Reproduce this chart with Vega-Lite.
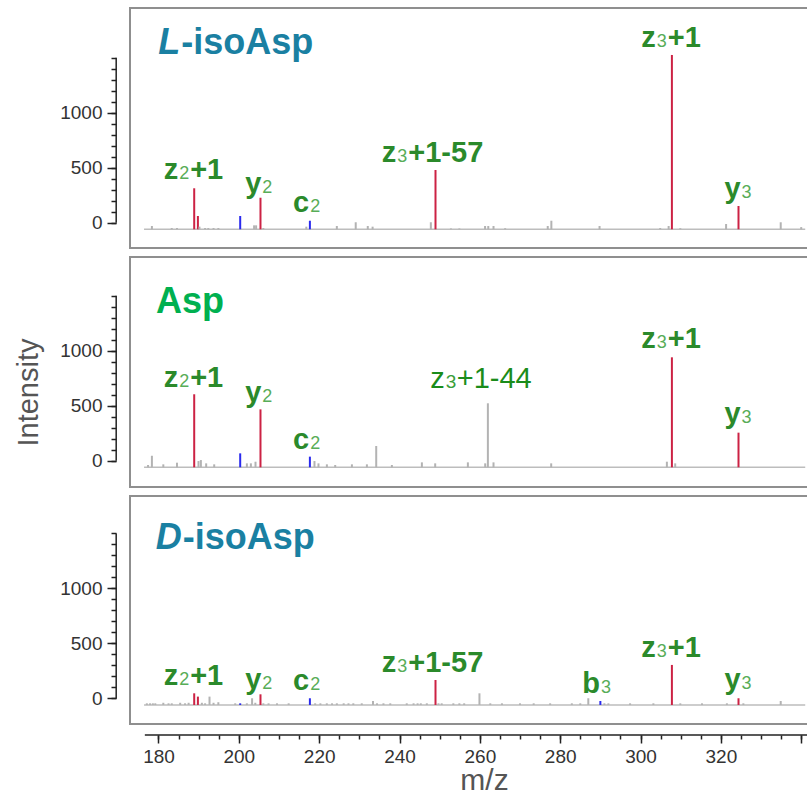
{
"$schema": "https://vega.github.io/schema/vega-lite/v6.json",
"padding": {"left": 13, "top": 7, "right": 0, "bottom": 0},
"background": "white",
"spacing": 7,
"config": {"view": {"stroke": "#8f8f8f", "strokeWidth": 2}, "axis": {"labelFont": "Liberation Sans", "titleFont": "Liberation Sans", "grid": false}, "text": {"font": "Liberation Sans"}},
"datasets": {
"peaks": [
{"p":"L","mz":188.89,"i":373,"t":"red"},{"p":"L","mz":189.81,"i":121,"t":"red"},{"p":"L","mz":205.39,"i":287,"t":"red"},{"p":"L","mz":248.96,"i":539,"t":"red"},{"p":"L","mz":307.81,"i":1585,"t":"red"},{"p":"L","mz":324.39,"i":212,"t":"red"},
{"p":"L","mz":200.34,"i":121,"t":"blue"},{"p":"L","mz":217.69,"i":78,"t":"blue"},
{"p":"L","mz":178.36,"i":30,"t":"gray"},{"p":"L","mz":183.3,"i":12,"t":"gray"},{"p":"L","mz":184.6,"i":12,"t":"gray"},{"p":"L","mz":190.2,"i":24,"t":"gray"},{"p":"L","mz":191.6,"i":12,"t":"gray"},{"p":"L","mz":192.4,"i":12,"t":"gray"},{"p":"L","mz":193.7,"i":12,"t":"gray"},{"p":"L","mz":194.9,"i":12,"t":"gray"},{"p":"L","mz":203.8,"i":36,"t":"gray"},{"p":"L","mz":204.3,"i":36,"t":"gray"},{"p":"L","mz":206.1,"i":12,"t":"gray"},{"p":"L","mz":216.8,"i":24,"t":"gray"},{"p":"L","mz":224.4,"i":30,"t":"gray"},{"p":"L","mz":229.1,"i":64,"t":"gray"},{"p":"L","mz":232.1,"i":30,"t":"gray"},{"p":"L","mz":233.3,"i":24,"t":"gray"},{"p":"L","mz":247.8,"i":64,"t":"gray"},{"p":"L","mz":252.8,"i":8,"t":"gray"},{"p":"L","mz":254.9,"i":8,"t":"gray"},{"p":"L","mz":261.3,"i":30,"t":"gray"},{"p":"L","mz":262.1,"i":30,"t":"gray"},{"p":"L","mz":263.4,"i":30,"t":"gray"},{"p":"L","mz":266.3,"i":10,"t":"gray"},{"p":"L","mz":276.9,"i":30,"t":"gray"},{"p":"L","mz":277.8,"i":78,"t":"gray"},{"p":"L","mz":289.8,"i":30,"t":"gray"},{"p":"L","mz":304.9,"i":12,"t":"gray"},{"p":"L","mz":307.0,"i":30,"t":"gray"},{"p":"L","mz":309.9,"i":10,"t":"gray"},{"p":"L","mz":321.3,"i":48,"t":"gray"},{"p":"L","mz":334.9,"i":64,"t":"gray"},{"p":"L","mz":340.0,"i":20,"t":"gray"},
{"p":"A","mz":188.89,"i":664,"t":"red"},{"p":"A","mz":205.39,"i":527,"t":"red"},{"p":"A","mz":307.81,"i":1000,"t":"red"},{"p":"A","mz":324.39,"i":315,"t":"red"},
{"p":"A","mz":200.34,"i":127,"t":"blue"},{"p":"A","mz":217.69,"i":97,"t":"blue"},
{"p":"A","mz":177.4,"i":21,"t":"gray"},{"p":"A","mz":178.36,"i":105,"t":"gray"},{"p":"A","mz":181.2,"i":27,"t":"gray"},{"p":"A","mz":184.6,"i":42,"t":"gray"},{"p":"A","mz":189.96,"i":57,"t":"gray"},{"p":"A","mz":190.55,"i":66,"t":"gray"},{"p":"A","mz":191.87,"i":36,"t":"gray"},{"p":"A","mz":193.87,"i":27,"t":"gray"},{"p":"A","mz":202.0,"i":36,"t":"gray"},{"p":"A","mz":203.0,"i":36,"t":"gray"},{"p":"A","mz":204.15,"i":51,"t":"gray"},{"p":"A","mz":218.83,"i":57,"t":"gray"},{"p":"A","mz":219.83,"i":36,"t":"gray"},{"p":"A","mz":221.92,"i":27,"t":"gray"},{"p":"A","mz":223.99,"i":21,"t":"gray"},{"p":"A","mz":228.15,"i":27,"t":"gray"},{"p":"A","mz":231.88,"i":27,"t":"gray"},{"p":"A","mz":234.2,"i":194,"t":"gray"},{"p":"A","mz":238.1,"i":21,"t":"gray"},{"p":"A","mz":245.57,"i":45,"t":"gray"},{"p":"A","mz":248.88,"i":36,"t":"gray"},{"p":"A","mz":257.02,"i":45,"t":"gray"},{"p":"A","mz":261.33,"i":36,"t":"gray"},{"p":"A","mz":262.0,"i":582,"t":"gray"},{"p":"A","mz":263.4,"i":45,"t":"gray"},{"p":"A","mz":277.76,"i":36,"t":"gray"},{"p":"A","mz":306.56,"i":51,"t":"gray"},{"p":"A","mz":308.63,"i":36,"t":"gray"},
{"p":"D","mz":188.89,"i":106,"t":"red"},{"p":"D","mz":189.81,"i":76,"t":"red"},{"p":"D","mz":205.39,"i":97,"t":"red"},{"p":"D","mz":248.96,"i":227,"t":"red"},{"p":"D","mz":307.81,"i":364,"t":"red"},{"p":"D","mz":324.39,"i":61,"t":"red"},
{"p":"D","mz":200.34,"i":15,"t":"blue"},{"p":"D","mz":217.69,"i":61,"t":"blue"},{"p":"D","mz":290.0,"i":36,"t":"blue"},
{"p":"D","mz":177.1,"i":15,"t":"gray"},{"p":"D","mz":177.9,"i":15,"t":"gray"},{"p":"D","mz":178.6,"i":15,"t":"gray"},{"p":"D","mz":179.2,"i":15,"t":"gray"},{"p":"D","mz":181.2,"i":20,"t":"gray"},{"p":"D","mz":182.5,"i":15,"t":"gray"},{"p":"D","mz":183.3,"i":15,"t":"gray"},{"p":"D","mz":185.4,"i":20,"t":"gray"},{"p":"D","mz":186.6,"i":15,"t":"gray"},{"p":"D","mz":187.5,"i":20,"t":"gray"},{"p":"D","mz":190.8,"i":20,"t":"gray"},{"p":"D","mz":191.6,"i":15,"t":"gray"},{"p":"D","mz":192.7,"i":76,"t":"gray"},{"p":"D","mz":193.7,"i":20,"t":"gray"},{"p":"D","mz":194.9,"i":25,"t":"gray"},{"p":"D","mz":199.1,"i":15,"t":"gray"},{"p":"D","mz":202.0,"i":15,"t":"gray"},{"p":"D","mz":203.3,"i":61,"t":"gray"},{"p":"D","mz":204.1,"i":20,"t":"gray"},{"p":"D","mz":206.1,"i":15,"t":"gray"},{"p":"D","mz":207.4,"i":15,"t":"gray"},{"p":"D","mz":209.5,"i":15,"t":"gray"},{"p":"D","mz":212.4,"i":15,"t":"gray"},{"p":"D","mz":219.0,"i":15,"t":"gray"},{"p":"D","mz":220.3,"i":15,"t":"gray"},{"p":"D","mz":221.9,"i":15,"t":"gray"},{"p":"D","mz":223.2,"i":15,"t":"gray"},{"p":"D","mz":224.4,"i":15,"t":"gray"},{"p":"D","mz":226.1,"i":15,"t":"gray"},{"p":"D","mz":227.3,"i":15,"t":"gray"},{"p":"D","mz":228.5,"i":15,"t":"gray"},{"p":"D","mz":230.6,"i":15,"t":"gray"},{"p":"D","mz":233.4,"i":36,"t":"gray"},{"p":"D","mz":234.4,"i":15,"t":"gray"},{"p":"D","mz":236.0,"i":15,"t":"gray"},{"p":"D","mz":237.7,"i":15,"t":"gray"},{"p":"D","mz":241.8,"i":15,"t":"gray"},{"p":"D","mz":243.5,"i":15,"t":"gray"},{"p":"D","mz":244.5,"i":15,"t":"gray"},{"p":"D","mz":245.3,"i":15,"t":"gray"},{"p":"D","mz":246.8,"i":15,"t":"gray"},{"p":"D","mz":249.7,"i":15,"t":"gray"},{"p":"D","mz":250.5,"i":15,"t":"gray"},{"p":"D","mz":253.4,"i":15,"t":"gray"},{"p":"D","mz":254.9,"i":15,"t":"gray"},{"p":"D","mz":256.1,"i":15,"t":"gray"},{"p":"D","mz":259.9,"i":106,"t":"gray"},{"p":"D","mz":262.6,"i":15,"t":"gray"},{"p":"D","mz":265.5,"i":15,"t":"gray"},{"p":"D","mz":270.0,"i":15,"t":"gray"},{"p":"D","mz":273.4,"i":15,"t":"gray"},{"p":"D","mz":277.5,"i":15,"t":"gray"},{"p":"D","mz":282.9,"i":15,"t":"gray"},{"p":"D","mz":285.0,"i":15,"t":"gray"},{"p":"D","mz":287.0,"i":61,"t":"gray"},{"p":"D","mz":291.0,"i":15,"t":"gray"},{"p":"D","mz":292.0,"i":15,"t":"gray"},{"p":"D","mz":297.4,"i":15,"t":"gray"},{"p":"D","mz":303.2,"i":15,"t":"gray"},{"p":"D","mz":309.9,"i":15,"t":"gray"},{"p":"D","mz":315.3,"i":15,"t":"gray"},{"p":"D","mz":321.5,"i":15,"t":"gray"},{"p":"D","mz":325.6,"i":15,"t":"gray"},{"p":"D","mz":334.9,"i":36,"t":"gray"}
],
"labels": [
{"p":"L","mz":184.9,"i":457,"main":"z","sub":"2","rest":"+1","bold":true},
{"p":"L","mz":205.6,"i":330,"main":"y","sub":"2","rest":"","bold":true},
{"p":"L","mz":217.5,"i":155,"main":"c","sub":"2","rest":"","bold":true},
{"p":"L","mz":239.2,"i":609,"main":"z","sub":"3","rest":"+1-57","bold":true},
{"p":"L","mz":303.8,"i":1660,"main":"z","sub":"3","rest":"+1","bold":true},
{"p":"L","mz":324.9,"i":282,"main":"y","sub":"3","rest":"","bold":true},
{"p":"A","mz":184.9,"i":733,"main":"z","sub":"2","rest":"+1","bold":true},
{"p":"A","mz":205.6,"i":596,"main":"y","sub":"2","rest":"","bold":true},
{"p":"A","mz":217.5,"i":166,"main":"c","sub":"2","rest":"","bold":true},
{"p":"A","mz":251.25,"i":718,"main":"z","sub":"3","rest":"+1-44","bold":false},
{"p":"A","mz":303.8,"i":1082,"main":"z","sub":"3","rest":"+1","bold":true},
{"p":"A","mz":324.9,"i":400,"main":"y","sub":"3","rest":"","bold":true},
{"p":"D","mz":184.9,"i":182,"main":"z","sub":"2","rest":"+1","bold":true},
{"p":"D","mz":205.6,"i":145,"main":"y","sub":"2","rest":"","bold":true},
{"p":"D","mz":217.5,"i":136,"main":"c","sub":"2","rest":"","bold":true},
{"p":"D","mz":239.2,"i":303,"main":"z","sub":"3","rest":"+1-57","bold":true},
{"p":"D","mz":289.9,"i":106,"main":"b","sub":"3","rest":"","bold":true},
{"p":"D","mz":303.8,"i":439,"main":"z","sub":"3","rest":"+1","bold":true},
{"p":"D","mz":324.9,"i":145,"main":"y","sub":"3","rest":"","bold":true}
]
},
"vconcat": [
{
"width": 679, "height": 240,
"resolve": {"axis": {"x": "independent", "y": "independent"}},
"layer": [
{"data":{"values":[{}]},"mark":{"type":"rule","color":"#bdbdbd","strokeWidth":1.5},"encoding":{"x":{"datum":176.4,"type":"quantitative","scale":{"domain":[172.907,341.94],"nice":false,"zero":false},"axis":null},"x2":{"datum":341},"y":{"datum":0,"type":"quantitative","scale":{"domain":[-170,2012],"nice":false,"zero":false},"axis":null}}},
{"data":{"name":"peaks"},"transform":[{"filter":"datum.p === 'L'"}],"mark":{"type":"rule"},"encoding":{
"x":{"field":"mz","type":"quantitative","scale":{"domain":[172.907,341.94],"nice":false,"zero":false},"axis":null},
"y":{"field":"i","type":"quantitative","scale":{"domain":[-170,2012],"nice":false,"zero":false},"axis":{"orient":"left","offset":14,"domain":false,"grid":false,"values":[0,500,1000],"tickOffset":-6.5,"tickSize":9,"tickColor":"#222222","tickWidth":1.5,"format":"d","labelFontSize":19,"labelColor":"#333333","labelPadding":5,"labelOverlap":false,"title":null}},
"y2":{"datum":0},
"color":{"field":"t","type":"nominal","scale":{"domain":["red","blue","gray"],"range":["#cc2244","#2a2aee","#b3b3b3"]},"legend":null},
"strokeWidth":{"field":"t","type":"nominal","scale":{"domain":["red","blue","gray"],"range":[2,2,1.2]},"legend":null}}},
{"data":{"values":[{}]},"mark":{"type":"rule","color":"#222222","strokeWidth":1.5,"yOffset":-6.5,"y2Offset":-6.5},"encoding":{"x":{"datum":169.47,"type":"quantitative","scale":{"domain":[172.907,341.94],"nice":false,"zero":false},"axis":null},"y":{"datum":0,"type":"quantitative","scale":{"domain":[-170,2012],"nice":false,"zero":false},"axis":{"orient":"left","offset":14,"domain":false,"grid":false,"values":[0,100,200,300,400,500,600,700,800,900,1000,1100,1200,1300,1400,1500],"tickOffset":-6.5,"tickSize":5,"tickColor":"#222222","tickWidth":1.5,"labels":false,"title":null}},"y2":{"datum":1500}}},
{"data":{"name":"labels"},"transform":[{"filter":"datum.p === 'L' && datum.bold"}],"mark":{"type":"text","align":"right","baseline":"alphabetic","fontWeight":"bold","fontSize":29,"color":"#2b8a2b"},"encoding":{"x":{"field":"mz","type":"quantitative","scale":{"domain":[172.907,341.94],"nice":false,"zero":false},"axis":null},"y":{"field":"i","type":"quantitative","scale":{"domain":[-170,2012],"nice":false,"zero":false},"axis":null},"text":{"field":"main"}}},
{"data":{"name":"labels"},"transform":[{"filter":"datum.p === 'L' && datum.bold"}],"mark":{"type":"text","align":"left","baseline":"alphabetic","dx":1,"fontSize":18,"color":"#58ad58"},"encoding":{"x":{"field":"mz","type":"quantitative","scale":{"domain":[172.907,341.94],"nice":false,"zero":false},"axis":null},"y":{"field":"i","type":"quantitative","scale":{"domain":[-170,2012],"nice":false,"zero":false},"axis":null},"text":{"field":"sub"}}},
{"data":{"name":"labels"},"transform":[{"filter":"datum.p === 'L' && datum.bold"}],"mark":{"type":"text","align":"left","baseline":"alphabetic","dx":12,"fontWeight":"bold","fontSize":29,"color":"#2b8a2b"},"encoding":{"x":{"field":"mz","type":"quantitative","scale":{"domain":[172.907,341.94],"nice":false,"zero":false},"axis":null},"y":{"field":"i","type":"quantitative","scale":{"domain":[-170,2012],"nice":false,"zero":false},"axis":null},"text":{"field":"rest"}}},
{"data":{"values":[{}]},"mark":{"type":"text","align":"right","baseline":"alphabetic","fontWeight":"bold","fontStyle":"italic","fontSize":36,"color":"#1a80a2"},"encoding":{"x":{"datum":185.4,"type":"quantitative","scale":{"domain":[172.907,341.94],"nice":false,"zero":false},"axis":null},"y":{"datum":1594,"type":"quantitative","scale":{"domain":[-170,2012],"nice":false,"zero":false},"axis":null},"text":{"value":"L"}}},
{"data":{"values":[{}]},"mark":{"type":"text","align":"left","baseline":"alphabetic","dx":1,"fontWeight":"bold","fontSize":36,"color":"#1a80a2"},"encoding":{"x":{"datum":185.4,"type":"quantitative","scale":{"domain":[172.907,341.94],"nice":false,"zero":false},"axis":null},"y":{"datum":1594,"type":"quantitative","scale":{"domain":[-170,2012],"nice":false,"zero":false},"axis":null},"text":{"value":"-isoAsp"}}}
]
},
{
"width": 679, "height": 230,
"resolve": {"axis": {"x": "independent", "y": "independent"}},
"layer": [
{"data":{"values":[{}]},"mark":{"type":"rule","color":"#bdbdbd","strokeWidth":1.5},"encoding":{"x":{"datum":176.4,"type":"quantitative","scale":{"domain":[172.907,341.94],"nice":false,"zero":false},"axis":null},"x2":{"datum":341},"y":{"datum":0,"type":"quantitative","scale":{"domain":[-179,1912],"nice":false,"zero":false},"axis":null}}},
{"data":{"name":"peaks"},"transform":[{"filter":"datum.p === 'A'"}],"mark":{"type":"rule"},"encoding":{
"x":{"field":"mz","type":"quantitative","scale":{"domain":[172.907,341.94],"nice":false,"zero":false},"axis":null},
"y":{"field":"i","type":"quantitative","scale":{"domain":[-179,1912],"nice":false,"zero":false},"axis":{"orient":"left","offset":14,"domain":false,"grid":false,"values":[0,500,1000],"tickOffset":-6.5,"tickSize":9,"tickColor":"#222222","tickWidth":1.5,"format":"d","labelFontSize":19,"labelColor":"#333333","labelPadding":5,"labelOverlap":false,"title":"Intensity","titleFontSize":29,"titleFontWeight":"normal","titleColor":"#555555","titleX":-73,"titleY":135,"titleAngle":270,"titleAlign":"center","titleBaseline":"bottom"}},
"y2":{"datum":0},
"color":{"field":"t","type":"nominal","scale":{"domain":["red","blue","gray"],"range":["#cc2244","#2a2aee","#b3b3b3"]},"legend":null},
"strokeWidth":{"field":"t","type":"nominal","scale":{"domain":["red","blue","gray"],"range":[2,2,1.2]},"legend":null}}},
{"data":{"values":[{}]},"mark":{"type":"rule","color":"#222222","strokeWidth":1.5,"yOffset":-6.5,"y2Offset":-6.5},"encoding":{"x":{"datum":169.47,"type":"quantitative","scale":{"domain":[172.907,341.94],"nice":false,"zero":false},"axis":null},"y":{"datum":0,"type":"quantitative","scale":{"domain":[-179,1912],"nice":false,"zero":false},"axis":{"orient":"left","offset":14,"domain":false,"grid":false,"values":[0,100,200,300,400,500,600,700,800,900,1000,1100,1200,1300,1400,1500],"tickOffset":-6.5,"tickSize":5,"tickColor":"#222222","tickWidth":1.5,"labels":false,"title":null}},"y2":{"datum":1500}}},
{"data":{"name":"labels"},"transform":[{"filter":"datum.p === 'A' && datum.bold"}],"mark":{"type":"text","align":"right","baseline":"alphabetic","fontWeight":"bold","fontSize":29,"color":"#2b8a2b"},"encoding":{"x":{"field":"mz","type":"quantitative","scale":{"domain":[172.907,341.94],"nice":false,"zero":false},"axis":null},"y":{"field":"i","type":"quantitative","scale":{"domain":[-179,1912],"nice":false,"zero":false},"axis":null},"text":{"field":"main"}}},
{"data":{"name":"labels"},"transform":[{"filter":"datum.p === 'A' && datum.bold"}],"mark":{"type":"text","align":"left","baseline":"alphabetic","dx":1,"fontSize":18,"color":"#58ad58"},"encoding":{"x":{"field":"mz","type":"quantitative","scale":{"domain":[172.907,341.94],"nice":false,"zero":false},"axis":null},"y":{"field":"i","type":"quantitative","scale":{"domain":[-179,1912],"nice":false,"zero":false},"axis":null},"text":{"field":"sub"}}},
{"data":{"name":"labels"},"transform":[{"filter":"datum.p === 'A' && datum.bold"}],"mark":{"type":"text","align":"left","baseline":"alphabetic","dx":12,"fontWeight":"bold","fontSize":29,"color":"#2b8a2b"},"encoding":{"x":{"field":"mz","type":"quantitative","scale":{"domain":[172.907,341.94],"nice":false,"zero":false},"axis":null},"y":{"field":"i","type":"quantitative","scale":{"domain":[-179,1912],"nice":false,"zero":false},"axis":null},"text":{"field":"rest"}}},
{"data":{"name":"labels"},"transform":[{"filter":"datum.p === 'A' && !datum.bold"}],"mark":{"type":"text","align":"right","baseline":"alphabetic","fontSize":29,"color":"#1a8c1a"},"encoding":{"x":{"field":"mz","type":"quantitative","scale":{"domain":[172.907,341.94],"nice":false,"zero":false},"axis":null},"y":{"field":"i","type":"quantitative","scale":{"domain":[-179,1912],"nice":false,"zero":false},"axis":null},"text":{"field":"main"}}},
{"data":{"name":"labels"},"transform":[{"filter":"datum.p === 'A' && !datum.bold"}],"mark":{"type":"text","align":"left","baseline":"alphabetic","dx":1,"fontSize":19,"color":"#3a9e3a"},"encoding":{"x":{"field":"mz","type":"quantitative","scale":{"domain":[172.907,341.94],"nice":false,"zero":false},"axis":null},"y":{"field":"i","type":"quantitative","scale":{"domain":[-179,1912],"nice":false,"zero":false},"axis":null},"text":{"field":"sub"}}},
{"data":{"name":"labels"},"transform":[{"filter":"datum.p === 'A' && !datum.bold"}],"mark":{"type":"text","align":"left","baseline":"alphabetic","dx":12,"fontSize":29,"color":"#1a8c1a"},"encoding":{"x":{"field":"mz","type":"quantitative","scale":{"domain":[172.907,341.94],"nice":false,"zero":false},"axis":null},"y":{"field":"i","type":"quantitative","scale":{"domain":[-179,1912],"nice":false,"zero":false},"axis":null},"text":{"field":"rest"}}},
{"data":{"values":[{}]},"mark":{"type":"text","align":"left","baseline":"alphabetic","fontWeight":"bold","fontSize":36,"color":"#00b050"},"encoding":{"x":{"datum":179.4,"type":"quantitative","scale":{"domain":[172.907,341.94],"nice":false,"zero":false},"axis":null},"y":{"datum":1400,"type":"quantitative","scale":{"domain":[-179,1912],"nice":false,"zero":false},"axis":null},"text":{"value":"Asp"}}}
]
},
{
"width": 679, "height": 228,
"resolve": {"axis": {"x": "independent", "y": "independent"}},
"layer": [
{"data":{"values":[{}]},"mark":{"type":"rule","color":"#bdbdbd","strokeWidth":1.5},"encoding":{"x":{"datum":176.4,"type":"quantitative","scale":{"domain":[172.907,341.94],"nice":false,"zero":false},"axis":null},"x2":{"datum":341},"y":{"datum":0,"type":"quantitative","scale":{"domain":[-173,1900],"nice":false,"zero":false},"axis":null}}},
{"data":{"name":"peaks"},"transform":[{"filter":"datum.p === 'D'"}],"mark":{"type":"rule"},"encoding":{
"x":{"field":"mz","type":"quantitative","scale":{"domain":[172.907,341.94],"nice":false,"zero":false},"axis":{"orient":"bottom","offset":11,"domain":false,"grid":false,"values":[180,200,220,240,260,280,300,320,340],"tickSize":8,"tickColor":"#222222","tickWidth":1.5,"format":"d","labelExpr":"datum.value <= 320 ? datum.label : ''","labelFontSize":19,"labelColor":"#333333","labelPadding":4,"labelOverlap":false,"labelFlush":false,"title":"m/z","titleFontSize":30,"titleFontWeight":"normal","titleColor":"#555555","titleX":354,"titleY":54,"titleAlign":"center","titleBaseline":"alphabetic"}},
"y":{"field":"i","type":"quantitative","scale":{"domain":[-173,1900],"nice":false,"zero":false},"axis":{"orient":"left","offset":14,"domain":false,"grid":false,"values":[0,500,1000],"tickOffset":-6.5,"tickSize":9,"tickColor":"#222222","tickWidth":1.5,"format":"d","labelFontSize":19,"labelColor":"#333333","labelPadding":5,"labelOverlap":false,"title":null}},
"y2":{"datum":0},
"color":{"field":"t","type":"nominal","scale":{"domain":["red","blue","gray"],"range":["#cc2244","#2a2aee","#b3b3b3"]},"legend":null},
"strokeWidth":{"field":"t","type":"nominal","scale":{"domain":["red","blue","gray"],"range":[2,2,1.2]},"legend":null}}},
{"data":{"values":[{}]},"mark":{"type":"rule","color":"#222222","strokeWidth":1.5,"yOffset":-6.5,"y2Offset":-6.5},"encoding":{"x":{"datum":169.47,"type":"quantitative","scale":{"domain":[172.907,341.94],"nice":false,"zero":false},"axis":null},"y":{"datum":0,"type":"quantitative","scale":{"domain":[-173,1900],"nice":false,"zero":false},"axis":{"orient":"left","offset":14,"domain":false,"grid":false,"values":[0,100,200,300,400,500,600,700,800,900,1000,1100,1200,1300,1400,1500],"tickOffset":-6.5,"tickSize":5,"tickColor":"#222222","tickWidth":1.5,"labels":false,"title":null}},"y2":{"datum":1500}}},
{"data":{"values":[{}]},"mark":{"type":"rule","color":"#222222","strokeWidth":1.5},"encoding":{"x":{"datum":176.6,"type":"quantitative","scale":{"domain":[172.907,341.94],"nice":false,"zero":false},"axis":{"orient":"bottom","offset":11,"domain":false,"grid":false,"values":[180,185,190,195,200,205,210,215,220,225,230,235,240,245,250,255,260,265,270,275,280,285,290,295,300,305,310,315,320,325,330,335,340],"tickSize":4,"tickColor":"#222222","tickWidth":1.5,"labels":false,"title":null}},"x2":{"datum":345},"y":{"datum":-273,"type":"quantitative","scale":{"domain":[-173,1900],"nice":false,"zero":false},"axis":null}}},
{"data":{"name":"labels"},"transform":[{"filter":"datum.p === 'D' && datum.bold"}],"mark":{"type":"text","align":"right","baseline":"alphabetic","fontWeight":"bold","fontSize":29,"color":"#2b8a2b"},"encoding":{"x":{"field":"mz","type":"quantitative","scale":{"domain":[172.907,341.94],"nice":false,"zero":false},"axis":null},"y":{"field":"i","type":"quantitative","scale":{"domain":[-173,1900],"nice":false,"zero":false},"axis":null},"text":{"field":"main"}}},
{"data":{"name":"labels"},"transform":[{"filter":"datum.p === 'D' && datum.bold"}],"mark":{"type":"text","align":"left","baseline":"alphabetic","dx":1,"fontSize":18,"color":"#58ad58"},"encoding":{"x":{"field":"mz","type":"quantitative","scale":{"domain":[172.907,341.94],"nice":false,"zero":false},"axis":null},"y":{"field":"i","type":"quantitative","scale":{"domain":[-173,1900],"nice":false,"zero":false},"axis":null},"text":{"field":"sub"}}},
{"data":{"name":"labels"},"transform":[{"filter":"datum.p === 'D' && datum.bold"}],"mark":{"type":"text","align":"left","baseline":"alphabetic","dx":12,"fontWeight":"bold","fontSize":29,"color":"#2b8a2b"},"encoding":{"x":{"field":"mz","type":"quantitative","scale":{"domain":[172.907,341.94],"nice":false,"zero":false},"axis":null},"y":{"field":"i","type":"quantitative","scale":{"domain":[-173,1900],"nice":false,"zero":false},"axis":null},"text":{"field":"rest"}}},
{"data":{"values":[{}]},"mark":{"type":"text","align":"right","baseline":"alphabetic","fontWeight":"bold","fontStyle":"italic","fontSize":36,"color":"#1a80a2"},"encoding":{"x":{"datum":185.8,"type":"quantitative","scale":{"domain":[172.907,341.94],"nice":false,"zero":false},"axis":null},"y":{"datum":1415,"type":"quantitative","scale":{"domain":[-173,1900],"nice":false,"zero":false},"axis":null},"text":{"value":"D"}}},
{"data":{"values":[{}]},"mark":{"type":"text","align":"left","baseline":"alphabetic","dx":1,"fontWeight":"bold","fontSize":36,"color":"#1a80a2"},"encoding":{"x":{"datum":185.8,"type":"quantitative","scale":{"domain":[172.907,341.94],"nice":false,"zero":false},"axis":null},"y":{"datum":1415,"type":"quantitative","scale":{"domain":[-173,1900],"nice":false,"zero":false},"axis":null},"text":{"value":"-isoAsp"}}}
]
}
]
}
